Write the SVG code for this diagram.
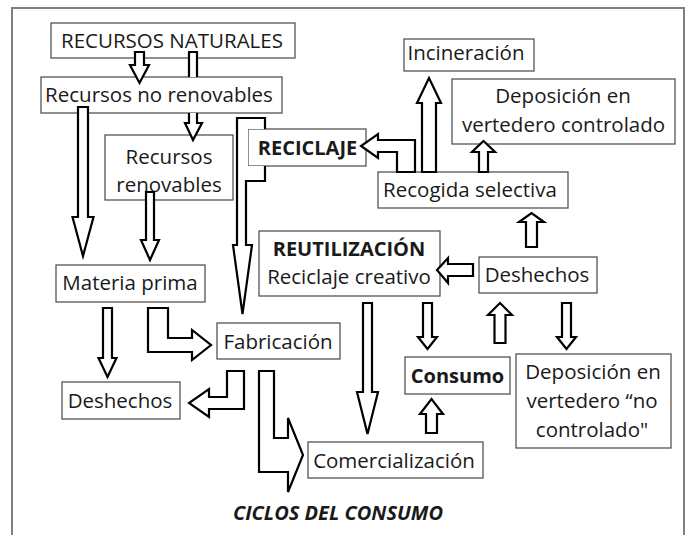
<svg xmlns="http://www.w3.org/2000/svg" width="692" height="535" viewBox="0 0 692 535">
<style>
.box{fill:#fff;stroke:#555;stroke-width:1.3}
.t{font-family:"Open Sans","Noto Sans","Liberation Sans",sans-serif;font-size:20.5px;fill:#1a1a1a;text-anchor:middle}
.b{font-weight:bold;font-size:20px}
.ar{fill:#fff;stroke:#000;stroke-width:2.2;stroke-linejoin:miter}
.nf{fill:#fff;stroke:none}
.ns{fill:none;stroke:#000;stroke-width:2.2}
</style>
<rect x="0" y="0" width="692" height="535" fill="#fff"/>
<rect x="12" y="8" width="672" height="540" fill="none" stroke="#808080" stroke-width="2"/>
<g id="nodes">
<g id="n-naturales"><rect class="box" x="51" y="23" width="244" height="35"/><text class="t" x="172" y="48" font-size="21.5">RECURSOS NATURALES</text></g>
<g id="n-norenovables"><rect class="box" x="41" y="77" width="241" height="36"/><text class="t" x="159" y="102">Recursos no renovables</text></g>
<g id="n-renovables"><rect class="box" x="105" y="135" width="128" height="65"/><text class="t" x="169" y="164">Recursos</text><text class="t" x="169" y="192">renovables</text></g>
<g id="n-reciclaje"><rect class="box" x="248" y="129" width="118" height="37"/><text class="t b" x="307.5" y="155">RECICLAJE</text></g>
<g id="n-incineracion"><rect class="box" x="404" y="39" width="130" height="32"/><text class="t" x="466" y="60">Incineración</text></g>
<g id="n-deposicion-controlado"><rect class="box" x="452" y="79" width="223" height="65"/><text class="t" x="563" y="103">Deposición en</text><text class="t" x="563.5" y="132">vertedero controlado</text></g>
<g id="n-recogida"><rect class="box" x="378" y="172" width="190" height="36"/><text class="t" x="470" y="197">Recogida selectiva</text></g>
<g id="n-reutilizacion"><rect class="box" x="259" y="231" width="181" height="65"/><text class="t b" x="349" y="256">REUTILIZACIÓN</text><text class="t" x="349" y="284">Reciclaje creativo</text></g>
<g id="n-deshechos-r"><rect class="box" x="479" y="257" width="118" height="36"/><text class="t" x="537" y="282">Deshechos</text></g>
<g id="n-materia"><rect class="box" x="56" y="265" width="149" height="37"/><text class="t" x="130" y="290">Materia prima</text></g>
<g id="n-fabricacion"><rect class="box" x="217" y="323" width="123" height="36"/><text class="t" x="278" y="349">Fabricación</text></g>
<g id="n-deshechos-l"><rect class="box" x="62" y="382" width="118" height="37"/><text class="t" x="120" y="408">Deshechos</text></g>
<g id="n-consumo"><rect class="box" x="405" y="357" width="105" height="37"/><text class="t b" x="457.5" y="383">Consumo</text></g>
<g id="n-nocontrolado"><rect class="box" x="516" y="354" width="155" height="94"/><text class="t" x="593" y="379">Deposición en</text><text class="t" x="592" y="408">vertedero “no</text><text class="t" x="592" y="437">controlado"</text></g>
<g id="n-comercializacion"><rect class="box" x="308" y="442" width="175" height="36"/><text class="t" x="394" y="468">Comercialización</text></g>
</g>
<g id="connectors">
<polygon class="ar" points="135,52 144,52 144,65 149,65 139.5,83 130,65 135,65"/>
<path class="ar" d="M189,77 V52 H197 V77"/>
<path class="ar" d="M189,113 V123 H185 L193,140 L202,123 H197 V113"/>
<polygon class="ar" points="78,107 88,107 88,217 93.5,217 83,256 72.5,217 78,217"/>
<polygon class="ar" points="146,192 154,192 154,240 159,240 150,260 141,240 146,240"/>
<g id="c-reciclaje-fabricacion">
<polygon class="nf" points="237,118 265,118 265,129 248,129 248,166 265,166 265,181 246,181 246,245 252,245 242.5,314 233,245 237,245"/>
<path class="ns" d="M265,129 V118 H237 V245 H233 L242.5,314 L252,245 H246 V181 H265 V166"/>
</g>
<polygon class="ar" points="103,308 112,308 112,358 116.5,358 107.5,377 98.5,358 103,358"/>
<polygon class="ar" points="148,308 168,308 168,338 192,338 192,330 211,345 192,360 192,352 148,352"/>
<polygon class="ar" points="227,371 244,371 244,409 209,409 209,417 189,403 209,389 209,397 227,397"/>
<polygon class="ar" points="259,371 274,371 274,438 288,438 288,418 303,455 288,492 288,472 259,472"/>
<polygon class="ar" points="363,303 372,303 372,392 378,392 367.5,434 357,392 363,392"/>
<polygon class="ar" points="423,303 432,303 432,337 437,337 427.5,349 418,337 423,337"/>
<polygon class="ar" points="494.5,343 505.5,343 505.5,315 512,315 500,303 488,315 494.5,315"/>
<polygon class="ar" points="562,303 571,303 571,337 576,337 566.5,349 557,337 562,337"/>
<polygon class="ar" points="426,433 437,433 437,414 443,414 431.5,399 420,414 426,414"/>
<polygon class="ar" points="473,264 473,276 448,276 448,283 437,270 448,258 448,264"/>
<polygon class="ar" points="526,247 537,247 537,222 544,222 531.5,213 519,222 526,222"/>
<polygon class="ar" points="479,172 488,172 488,152 495,152 483.5,141 472,152 479,152"/>
<polygon class="ar" points="422,172 436,172 436,103 441,103 429,78 417,103 422,103"/>
<polygon class="ar" points="415,172 415,140 378,140 378,134 361,146 378,158 378,152 397,152 397,172"/>
</g>
<text class="t b" x="338" y="520" font-style="italic" font-size="21.5">CICLOS DEL CONSUMO</text>
</svg>
